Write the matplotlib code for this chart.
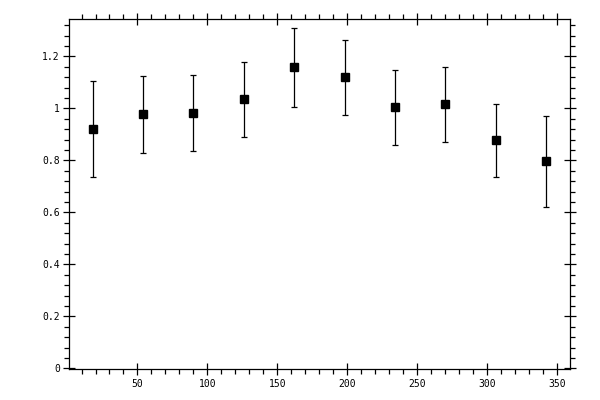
import matplotlib
matplotlib.use("Agg")
import matplotlib.pyplot as plt
from matplotlib.ticker import MultipleLocator, FuncFormatter

x = [18, 54, 90, 126, 162, 198, 234, 270, 306, 342]
y = [0.920, 0.977, 0.981, 1.035, 1.158, 1.120, 1.004, 1.016, 0.877, 0.797]
yerr = [0.185, 0.148, 0.146, 0.145, 0.152, 0.144, 0.143, 0.144, 0.139, 0.175]

fig = plt.figure(figsize=(6, 4), dpi=100)
ax = fig.add_axes([0.1158, 0.077, 0.9500 - 0.1158, 0.952 - 0.077])

ax.errorbar(x, y, yerr=yerr, fmt='s', color='black', markersize=5.2,
            elinewidth=0.9, capsize=2.5, capthick=0.9)

ax.set_xlim(1.4, 359.1)
ax.set_ylim(-0.003, 1.343)

ax.xaxis.set_major_locator(MultipleLocator(50))
ax.xaxis.set_minor_locator(MultipleLocator(10))
ax.yaxis.set_major_locator(MultipleLocator(0.2))
ax.yaxis.set_minor_locator(MultipleLocator(0.04))
ax.yaxis.set_major_formatter(FuncFormatter(lambda v, p: '%g' % round(v, 6)))
ax.xaxis.set_major_formatter(FuncFormatter(lambda v, p: '%g' % round(v, 6)))

for s in ax.spines.values():
    s.set_linewidth(0.9)

ax.tick_params(which='major', direction='inout', length=8, width=0.9,
               top=True, right=True, labelsize=7, pad=3)
ax.tick_params(which='minor', direction='out', length=3.5, width=0.9,
               top=True, right=True)
for lab in ax.get_xticklabels() + ax.get_yticklabels():
    lab.set_family('DejaVu Sans Mono')

fig.savefig('out.png', dpi=100)
